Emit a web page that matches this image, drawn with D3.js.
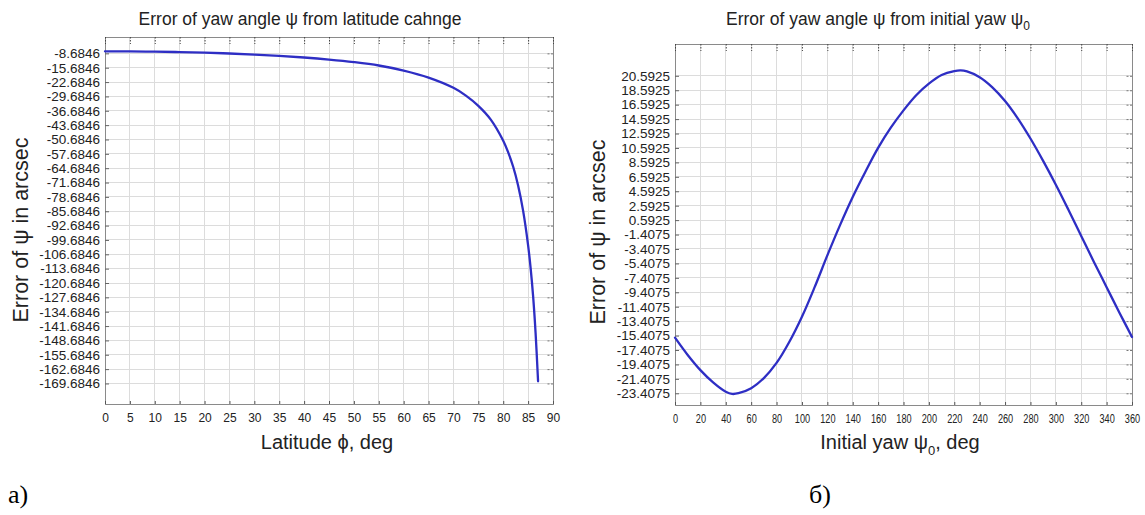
<!DOCTYPE html>
<html>
<head>
<meta charset="utf-8">
<script src="https://cdn.jsdelivr.net/npm/d3@7"></script>
<style>
  html, body { margin: 0; padding: 0; background: #fff; }
  svg { display: block; font-family: "Liberation Sans", Arial, sans-serif; }
</style>
</head>
<body>
<svg id="chart" width="1145" height="515"></svg>
<script>
// ---------- Data: chart (a) error vs latitude ----------
const latDeg = [0, 5, 10, 15, 20, 25, 30, 35, 40, 45, 50, 55, 60, 65, 70, 72.5, 75, 77.5, 80, 81, 82, 83, 84, 85, 85.5, 86, 86.5, 87];
const latErr = [-7.7, -7.75, -7.85, -8.05, -8.35, -8.75, -9.25, -9.9, -10.7, -11.7, -12.95, -14.6, -17.1, -20.5, -25.5, -29.3, -34.3, -41.0, -51.3, -57.0, -64.0, -73.2, -85.5, -102.3, -113.3, -127.0, -145.0, -168.6];
const latXTicks = [0, 5, 10, 15, 20, 25, 30, 35, 40, 45, 50, 55, 60, 65, 70, 75, 80, 85, 90];
const latYTickLabels = ["-8.6846", "-15.6846", "-22.6846", "-29.6846", "-36.6846", "-43.6846", "-50.6846", "-57.6846", "-64.6846", "-71.6846", "-78.6846", "-85.6846", "-92.6846", "-99.6846", "-106.6846", "-113.6846", "-120.6846", "-127.6846", "-134.6846", "-141.6846", "-148.6846", "-155.6846", "-162.6846", "-169.6846"];

// ---------- Data: chart (б) error vs initial yaw ----------
const yawDeg = [0, 10, 20, 30, 40, 45, 50, 60, 70, 80, 90, 100, 110, 120, 130, 140, 150, 160, 170, 180, 190, 200, 210, 220, 225, 230, 240, 250, 260, 270, 280, 290, 300, 310, 320, 330, 340, 350, 360];
const yawErr = [-15.7, -18.1, -20.2, -21.9, -23.2, -23.5, -23.4, -22.7, -21.3, -19.2, -16.3, -12.8, -8.7, -4.3, -0.1, 3.8, 7.3, 10.6, 13.4, 15.8, 17.9, 19.5, 20.7, 21.25, 21.35, 21.2, 20.4, 19.0, 17.1, 14.7, 11.9, 8.8, 5.5, 2.0, -1.6, -5.2, -8.7, -12.2, -15.6];
const yawXTicks = [0, 20, 40, 60, 80, 100, 120, 140, 160, 180, 200, 220, 240, 260, 280, 300, 320, 340, 360];
const yawYTickLabels = ["20.5925", "18.5925", "16.5925", "14.5925", "12.5925", "10.5925", "8.5925", "6.5925", "4.5925", "2.5925", "0.5925", "-1.4075", "-3.4075", "-5.4075", "-7.4075", "-9.4075", "-11.4075", "-13.4075", "-15.4075", "-17.4075", "-19.4075", "-21.4075", "-23.4075"];

const svg = d3.select("#chart");
const LINE = "#2e2ec4";
const GRID = "#dcdcdc";
const BOX = "#8a8a8a";
const TXT = "#222";

function panel(cfg) {
  const g = svg.append("g");
  const x = d3.scaleLinear().domain(cfg.xDomain).range([cfg.left, cfg.right]);
  const y = d3.scaleLinear().domain(cfg.yDomain).range([cfg.bottom, cfg.top]);
  const yTicks = cfg.yLabels.map(Number);

  // grid
  g.append("g").selectAll("line").data(cfg.xTicks).join("line")
    .attr("x1", d => x(d)).attr("x2", d => x(d))
    .attr("y1", cfg.top).attr("y2", cfg.bottom)
    .attr("stroke", GRID).attr("stroke-width", 1).attr("shape-rendering", "crispEdges");
  g.append("g").selectAll("line").data(yTicks).join("line")
    .attr("x1", cfg.left).attr("x2", cfg.right)
    .attr("y1", d => y(d)).attr("y2", d => y(d))
    .attr("stroke", GRID).attr("stroke-width", 1).attr("shape-rendering", "crispEdges");

  // box
  g.append("rect").attr("x", cfg.left).attr("y", cfg.top)
    .attr("width", cfg.right - cfg.left).attr("height", cfg.bottom - cfg.top)
    .attr("fill", "none").attr("stroke", BOX).attr("stroke-width", 1).attr("shape-rendering", "crispEdges");

  // bottom axis (inward ticks)
  const xAxis = g.append("g").attr("transform", `translate(0,${cfg.bottom})`)
    .call(d3.axisBottom(x).tickValues(cfg.xTicks).tickSize(-3).tickPadding(9).tickFormat(d3.format("d")));
  xAxis.select(".domain").remove();
  xAxis.selectAll(".tick line").attr("stroke", "#555");
  xAxis.selectAll(".tick text").attr("fill", TXT).attr("font-size", 12)
    .attr("font-family", "Liberation Sans, Arial, sans-serif");
  if (cfg.xLabelDigitW) {
    xAxis.selectAll(".tick text").each(function(d) {
      const s = String(d);
      d3.select(this).attr("textLength", s.length * cfg.xLabelDigitW).attr("lengthAdjust", "spacingAndGlyphs");
    });
  }

  // left axis (inward ticks)
  const yAxis = g.append("g").attr("transform", `translate(${cfg.left},0)`)
    .call(d3.axisLeft(y).tickValues(yTicks).tickSize(-4).tickPadding(5)
      .tickFormat((d, i) => cfg.yLabels[i]));
  yAxis.select(".domain").remove();
  yAxis.selectAll(".tick line").attr("stroke", "#666");
  yAxis.selectAll(".tick text").attr("fill", TXT).attr("font-size", 13.5)
    .attr("font-family", "Liberation Sans, Arial, sans-serif");

  // top axis small dotted ticks
  const topAxis = g.append("g").attr("transform", `translate(0,${cfg.top})`)
    .call(d3.axisTop(x).tickValues(cfg.xTicks).tickSize(-7).tickFormat(""));
  topAxis.select(".domain").remove();
  topAxis.selectAll(".tick line").attr("stroke", "#444").attr("stroke-dasharray", "1.5,1.5");

  // right axis small marks
  const rightAxis = g.append("g").attr("transform", `translate(${cfg.right},0)`)
    .call(d3.axisRight(y).tickValues(yTicks).tickSize(-6).tickFormat(""));
  rightAxis.select(".domain").remove();
  rightAxis.selectAll(".tick line").attr("stroke", "#777").attr("stroke-dasharray", "2,1.5");

  // curve
  const pts = cfg.xs.map((d, i) => [d, cfg.ys[i]]);
  g.append("path").datum(pts)
    .attr("fill", "none").attr("stroke", LINE).attr("stroke-width", 2.3)
    .attr("stroke-linejoin", "round").attr("stroke-linecap", "round")
    .attr("d", d3.line().x(d => x(d[0])).y(d => y(d[1])).curve(d3.curveCatmullRom.alpha(0.5)));

  return g;
}

panel({
  left: 105, right: 553, top: 37, bottom: 404,
  xDomain: [0, 90], yDomain: [-179.7, -0.7],
  xTicks: latXTicks, yLabels: latYTickLabels,
  xs: latDeg, ys: latErr
});

panel({
  left: 675, right: 1132, top: 44, bottom: 405,
  xDomain: [0, 360], yDomain: [-25.03, 25.0],
  xTicks: yawXTicks, yLabels: yawYTickLabels,
  xs: yawDeg, ys: yawErr, xLabelDigitW: 5.1
});

// titles
svg.append("text").attr("x", 300).attr("y", 25).attr("text-anchor", "middle")
  .attr("font-size", 17.5).attr("fill", TXT)
  .text("Error of yaw angle ψ from latitude cahnge");

const t2 = svg.append("text").attr("x", 878).attr("y", 25).attr("text-anchor", "middle")
  .attr("font-size", 17.5).attr("fill", TXT);
t2.append("tspan").text("Error of yaw angle ψ from initial yaw ψ");
t2.append("tspan").attr("font-size", 12).attr("dy", 5).text("0");

// axis titles
svg.append("text").attr("x", 327).attr("y", 449).attr("text-anchor", "middle")
  .attr("font-size", 20).attr("fill", TXT).text("Latitude ϕ, deg");

const xt2 = svg.append("text").attr("x", 900).attr("y", 449).attr("text-anchor", "middle")
  .attr("font-size", 20).attr("fill", TXT);
xt2.append("tspan").text("Initial yaw ψ");
xt2.append("tspan").attr("font-size", 13).attr("dy", 6).text("0");
xt2.append("tspan").attr("dy", -6).text(", deg");

svg.append("text").attr("transform", "translate(28,230) rotate(-90)").attr("text-anchor", "middle")
  .attr("font-size", 21.5).attr("fill", TXT).text("Error of ψ in arcsec");
svg.append("text").attr("transform", "translate(605,232) rotate(-90)").attr("text-anchor", "middle")
  .attr("font-size", 21.5).attr("fill", TXT).text("Error of ψ in arcsec");

// panel letters
svg.append("text").attr("x", 8).attr("y", 503).attr("font-family", "Liberation Serif, Times New Roman, serif")
  .attr("font-size", 26).attr("fill", "#000").text("а)");
svg.append("text").attr("x", 809).attr("y", 503).attr("font-family", "Liberation Serif, Times New Roman, serif")
  .attr("font-size", 26).attr("fill", "#000").text("б)");
</script>
</body>
</html>
